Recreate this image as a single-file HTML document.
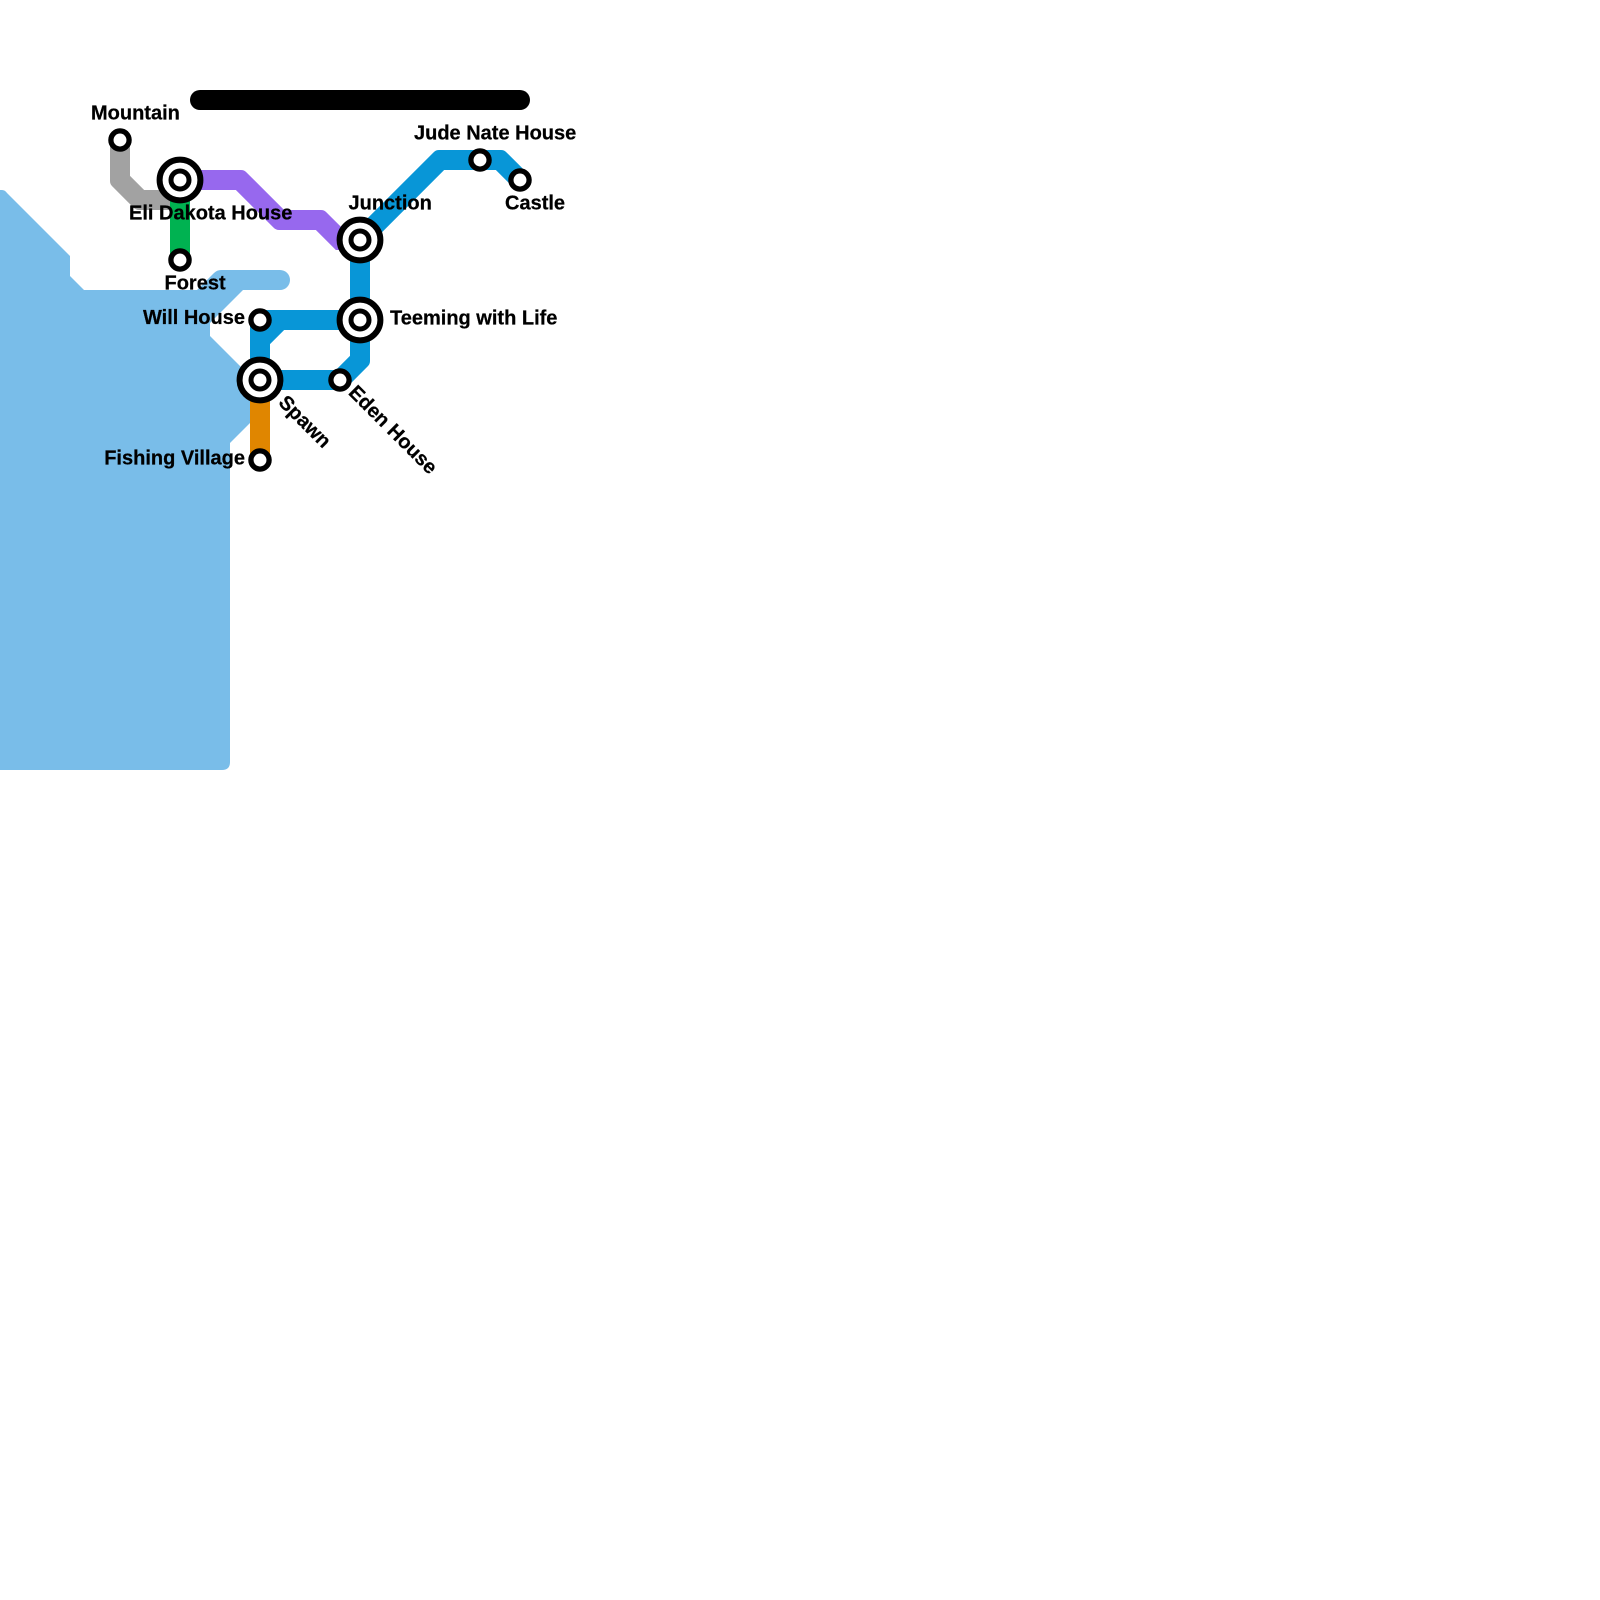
<!DOCTYPE html>
<html>
<head>
<meta charset="utf-8">
<style>
html,body{margin:0;padding:0;background:#fff;}
svg{display:block;}
text{font-family:"Liberation Sans",sans-serif;font-weight:bold;font-size:20px;fill:#000;stroke:#000;stroke-width:0.25;}
</style>
</head>
<body>
<svg width="1600" height="1600" viewBox="0 0 1600 1600" xmlns="http://www.w3.org/2000/svg">
<rect width="1600" height="1600" fill="#fff"/>
<path fill="#79bde9" d="M0,190 L2,190 Q5,190 7,193 L70,256 L70,276 L84,290 L197,290 L214,273 Q217,270 221,270 L280,270 A10,10 0 0 1 280,290 L243,290 L210,323 L210,336 L250,376 L250,423 L230,443 L230,762 Q230,770 222,770 L0,770 Z"/>
<path fill="#000" d="M210,90 H520 A10,10 0 0 1 520,110 H200 A10,10 0 0 1 200,90 Z"/>
<path fill="#a2a2a2" d="M110,140 V181 Q110,184.14 112.2,186.3 L133.7,207.8 Q135.86,210 139,210 H180 V190 H144.14 L130,175.86 V140 Z"/>
<rect x="170" y="180" width="20" height="80" fill="#00b251"/>
<path fill="#9768ee" d="M180,170 H241 Q244.14,170 246.3,172.2 L284.14,210 H321 Q324.14,210 326.3,212.2 L344.14,230 H360 V250 H335.86 L315.86,230 H279 Q275.86,230 273.7,227.8 L235.86,190 H180 Z"/>
<rect x="250" y="380" width="20" height="80" fill="#e08600"/>
<path fill="#0896d7" d="M352.9,232.9 L433.7,152.2 Q435.86,150 439,150 H501 Q504.14,150 506.3,152.2 L527.07,172.93 L512.93,187.07 L495.86,170 H444.14 L367.1,247.1 Z"/>
<path fill="#0896d7" d="M350,240 H370 V361 Q370,364.14 367.8,366.3 L344.14,390 H260 V370 H335.86 L350,355.86 Z"/>
<path fill="#0896d7" d="M250,380 V320 Q250,310 260,310 H360 V330 H284.14 L270,344.14 V380 Z"/>
<g fill="#fff" stroke="#000" stroke-width="5.3">
<circle cx="120" cy="140" r="9.1"/>
<circle cx="180" cy="260" r="9.1"/>
<circle cx="260" cy="320" r="9.1"/>
<circle cx="340" cy="380" r="9.1"/>
<circle cx="260" cy="460" r="9.1"/>
<circle cx="480" cy="160" r="9.1"/>
<circle cx="520" cy="180" r="9.1"/>
<g stroke-width="6"><circle cx="180" cy="180" r="20.4"/><circle cx="360" cy="240" r="20.4"/><circle cx="360" cy="320" r="20.4"/><circle cx="260" cy="380" r="20.4"/></g>
<g stroke-width="5"><circle cx="180" cy="180" r="9"/>
<circle cx="360" cy="240" r="9"/>
<circle cx="360" cy="320" r="9"/>
<circle cx="260" cy="380" r="9"/></g>
</g>
<text x="91" y="119.5">Mountain</text>
<text x="129" y="219.5">Eli Dakota House</text>
<text x="164.5" y="289.5">Forest</text>
<text x="245" y="324" text-anchor="end">Will House</text>
<text x="245" y="464.5" text-anchor="end">Fishing Village</text>
<text x="390" y="324.5">Teeming with Life</text>
<text x="414" y="139.5">Jude Nate House</text>
<text x="348.5" y="209.5">Junction</text>
<text x="505" y="209.5">Castle</text>
<text transform="translate(277.5,403.5) rotate(45)">Spawn</text>
<text transform="translate(347.5,393.5) rotate(45)">Eden House</text>
</svg>
</body>
</html>
